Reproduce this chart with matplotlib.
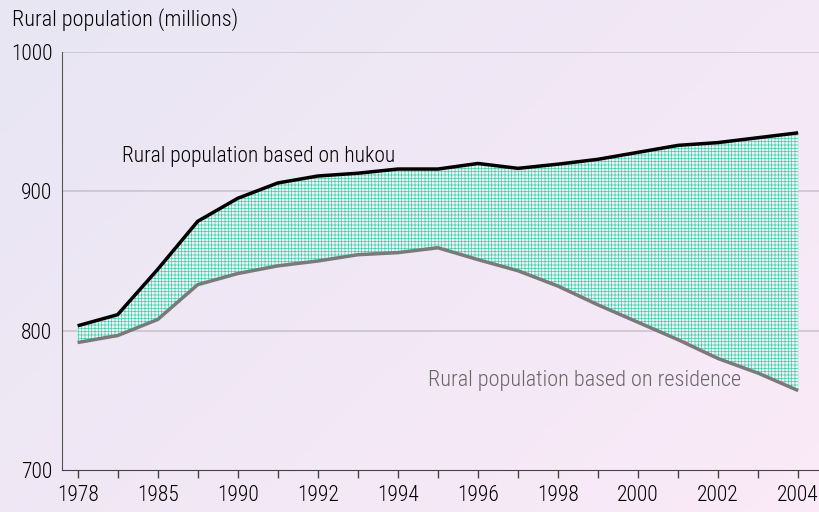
import matplotlib as mpl
mpl.use('Agg')
import matplotlib.pyplot as plt
import numpy as np

years = ["1978", "1980", "1985", "1989", "1990", "1991", "1992", "1993", "1994", "1995",
         "1996", "1997", "1998", "1999", "2000", "2001", "2002", "2003", "2004"]
labels = ['1978', '', '1985', '', '1990', '', '1992', '', '1994', '', '1996', '', '1998', '',
          '2000', '', '2002', '', '2004']
hukou = [803.5, 811.5, 844, 878.5, 895, 906, 911, 913, 916, 916,
         920, 916.5, 919.5, 923, 928, 933, 935, 938.5, 942]
residence = [791.5, 796.5, 808, 833, 841, 846.5, 850, 854.5, 856, 859.5,
             851, 843, 832, 818.5, 806, 793.5, 780, 769.5, 757]
yticks = [700, 800, 900, 1000]

plt.rcParams['font.family'] = ['Liberation Sans Narrow', 'Arial Narrow', 'Roboto Condensed',
                               'Archivo Narrow', 'Liberation Sans', 'DejaVu Sans']
plt.rcParams['font.weight'] = 'light'
plt.rcParams['hatch.color'] = '#45cbad'
plt.rcParams['hatch.linewidth'] = 0.5

fig = plt.figure(figsize=(8.19, 5.12), dpi=100)

# gradient background
bg = fig.add_axes([0, 0, 1, 1], zorder=0)
gx, gy = np.meshgrid(np.linspace(0, 1, 200), np.linspace(0, 1, 200))
t = np.clip(0.6 * gx + 0.4 * gy, 0, 1)
c0 = np.array([232, 230, 243]) / 255
c1 = np.array([251, 234, 248]) / 255
img = c0[None, None, :] * (1 - t[..., None]) + c1[None, None, :] * t[..., None]
bg.imshow(img, aspect='auto', extent=[0, 1, 0, 1], origin='upper')
bg.axis('off')

ax = fig.add_axes([62 / 819, 42 / 512, 1 - 62 / 819, 418 / 512], zorder=1)
ax.patch.set_alpha(0)
x = np.arange(len(years))

ax.fill_between(x, residence, hukou, facecolor='#e8f6f5', edgecolor='none',
                hatch='+++++', linewidth=0, zorder=2)
ax.plot(x, hukou, color='#000000', lw=2.5, zorder=4, solid_capstyle='butt')
ax.plot(x, residence, color='#7a7a7a', lw=2.5, zorder=3, solid_capstyle='butt')

ax.set_ylim(700, 1000)
ax.set_xlim(-0.39, 18.52)
ax.set_yticks(yticks)
ax.set_yticklabels([str(v) for v in yticks], fontsize=15.5)
for v in yticks[1:]:
    ax.axhline(v, color='#c8c4cc', lw=1.2, zorder=1)

ax.set_xticks(x)
ax.set_xticklabels(labels, fontsize=15.5)
ax.tick_params(axis='x', direction='out', length=6, width=1, color='#444444', pad=5)
ax.tick_params(axis='y', length=0, pad=7)

for s in ['top', 'right']:
    ax.spines[s].set_visible(False)
ax.spines['left'].set_color('#555555')
ax.spines['bottom'].set_color('#444444')

ax.text(1.1, 925, "Rural population based on hukou", fontsize=15.5, color='#000000',
        va='center', ha='left', zorder=5)
ax.text(8.75, 764, "Rural population based on residence", fontsize=16, color='#666666',
        va='center', ha='left', zorder=5)

fig.text(12 / 819, 1 - 20 / 512, "Rural population (millions)", fontsize=16,
         va='center', ha='left')

fig.savefig('out.png', dpi=100)
